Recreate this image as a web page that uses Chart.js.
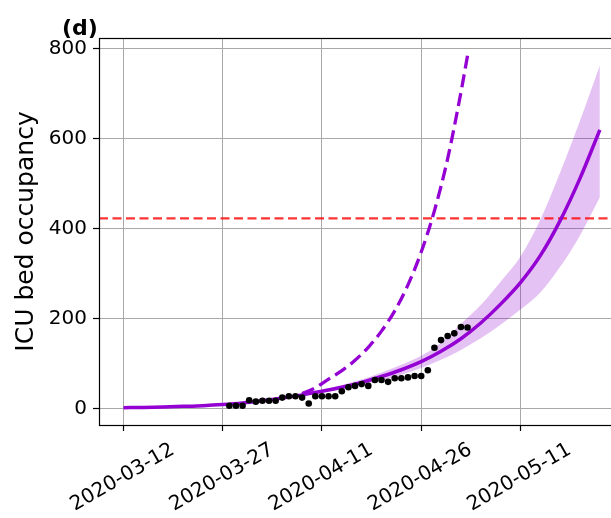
<!DOCTYPE html>
<html><head><meta charset="utf-8">
<script src="https://cdn.jsdelivr.net/npm/chart.js@4"></script>
<style>
html,body{margin:0;padding:0;overflow:hidden;background:#fff;width:611px;height:518px}
#wrap{position:absolute;left:0;top:0;width:640px;height:518px}
</style>
</head><body><div id="wrap"><canvas id="c" width="640" height="518"></canvas></div>
<script>
// x values are days since 2020-03-12
const panelLabel = '(d)';
const yTitle = 'ICU bed occupancy';
const tickDays = [0, 15, 30, 45, 60];
const tickLabels = ['2020-03-12', '2020-03-27', '2020-04-11', '2020-04-26', '2020-05-11'];
const yTicks = [0, 200, 400, 600, 800];
const xLimits = [-3.7, 75.5];
const yLimits = [-37, 824.4];

const fitDays   = [0, 3, 6, 9, 12, 15, 18, 21, 24, 27, 30, 33, 36, 39, 42, 45, 48, 51, 54, 57, 60, 63, 66, 69, 72];
const fitMedian = [1.5, 2.2, 3.2, 4.5, 6, 8.5, 12, 17, 23, 30, 38, 47, 58, 71, 86, 104, 127, 155, 190, 232, 280, 340, 418, 512, 620];
const fitLower  = [1.4, 2.1, 3.1, 4.3, 5.7, 8, 11.4, 16, 21.5, 27.5, 35, 42, 52, 62, 75, 90, 108, 130, 156, 186, 220, 258, 315, 385, 470];
const fitUpper  = [1.6, 2.3, 3.3, 4.7, 6.3, 9, 12.6, 18, 24.5, 32.5, 41, 52, 64, 80, 97, 117, 146, 188, 230, 282, 338, 420, 525, 640, 763];

const scenarioDays   = [27, 29, 31, 33, 35, 37, 39, 41, 43, 45, 47, 49, 51, 52];
const scenarioValues = [33, 46, 65, 84, 107, 136, 172, 217, 275, 348, 440, 556, 703, 785];

const obsDays   = [16, 17, 18, 19, 20, 21, 22, 23, 24, 25, 26, 27, 28, 29, 30, 31, 32, 33, 34, 35, 36, 37, 38, 39, 40, 41, 42, 43, 44, 45, 46, 47, 48, 49, 50, 51, 52];
const obsValues = [6, 6, 6, 18, 15, 17, 17, 17, 24, 27, 27, 24, 11, 27, 27, 27, 27, 38, 47, 50, 54, 50, 63, 63, 59, 67, 67, 69, 72, 72, 85, 135, 152, 161, 167, 181, 180];

const capacity = 423;

const pts = (xs, ys) => xs.map((x, i) => ({x: x, y: ys[i]}));
const FONT = "'DejaVu Sans', sans-serif";
const PURPLE = '#9400D3';

const decorPlugin = {
  id: 'decor',
  afterDatasetsDraw(chart) {
    const {ctx, chartArea: a} = chart;
    ctx.save();
    ctx.strokeStyle = '#000';
    ctx.lineWidth = 1.2;
    ctx.strokeRect(Math.round(a.left) + 0.5, Math.round(a.top) + 0.5,
                   Math.round(a.right - a.left), Math.round(a.bottom - a.top));
    ctx.restore();
  },
  afterDraw(chart) {
    const {ctx, chartArea: a} = chart;
    const xs = chart.scales.x;
    ctx.save();
    ctx.fillStyle = '#000';
    ctx.font = '20px ' + FONT;
    ctx.textAlign = 'center';
    ctx.textBaseline = 'middle';
    tickDays.forEach((d, i) => {
      const px = xs.getPixelForValue(d);
      ctx.save();
      ctx.translate(px - 1, a.bottom + 52.5);
      ctx.rotate(-Math.PI / 6);
      ctx.fillText(tickLabels[i], 0, 0);
      ctx.restore();
    });
    ctx.font = 'bold 22px ' + FONT;
    ctx.textAlign = 'left';
    ctx.textBaseline = 'alphabetic';
    ctx.fillText(panelLabel, 62, 35);
    ctx.restore();
  }
};

new Chart(document.getElementById('c'), {
  type: 'line',
  data: {
    datasets: [
      { data: pts(obsDays, obsValues), showLine: false, pointRadius: 3.3, pointBackgroundColor: '#000',
        pointBorderWidth: 0, borderColor: '#000', order: 0 },
      { data: pts(fitDays, fitMedian), borderColor: PURPLE, borderWidth: 3.5, pointRadius: 0,
        cubicInterpolationMode: 'monotone', fill: false, order: 1 },
      { data: pts(scenarioDays, scenarioValues), borderColor: PURPLE, borderWidth: 3.3, borderDash: [13, 6],
        pointRadius: 0, cubicInterpolationMode: 'monotone', fill: false, order: 2 },
      { data: pts(xLimits, [capacity, capacity]), borderColor: 'rgba(255,0,0,0.8)', borderWidth: 2.2,
        borderDash: [9, 4.5], pointRadius: 0, fill: false, order: 3 },
      { data: pts(fitDays, fitLower), borderWidth: 0, borderColor: 'rgba(0,0,0,0)', pointRadius: 0,
        cubicInterpolationMode: 'monotone', fill: false, order: 4 },
      { data: pts(fitDays, fitUpper), borderWidth: 0, borderColor: 'rgba(0,0,0,0)', pointRadius: 0,
        cubicInterpolationMode: 'monotone', fill: '-1', backgroundColor: 'rgba(148,0,211,0.24)', order: 5 }
    ]
  },
  options: {
    responsive: false,
    devicePixelRatio: 1,
    animation: false,
    layout: { padding: { top: 38, right: 17, bottom: 0, left: 0 } },
    plugins: { legend: { display: false }, tooltip: { enabled: false } },
    scales: {
      x: {
        type: 'linear', min: xLimits[0], max: xLimits[1],
        afterBuildTicks: s => { s.ticks = tickDays.map(v => ({value: v})); },
        afterFit: s => { s.height = 93; },
        ticks: { display: false },
        border: { display: false },
        grid: { color: '#a8a8a8', lineWidth: 1, tickLength: 6, tickColor: '#000', tickWidth: 1.2 }
      },
      y: {
        min: yLimits[0], max: yLimits[1],
        afterBuildTicks: s => { s.ticks = yTicks.map(v => ({value: v})); },
        afterFit: s => { s.width = 99; },
        ticks: { font: { family: FONT, size: 20 }, color: '#000', padding: 6 },
        border: { display: false },
        grid: { color: '#a8a8a8', lineWidth: 1, tickLength: 6, tickColor: '#000', tickWidth: 1.2 },
        title: { display: true, text: yTitle, color: '#000', font: { family: FONT, size: 25 },
                 padding: { top: 11, bottom: 0 } }
      }
    }
  },
  plugins: [decorPlugin]
});
</script></body></html>
